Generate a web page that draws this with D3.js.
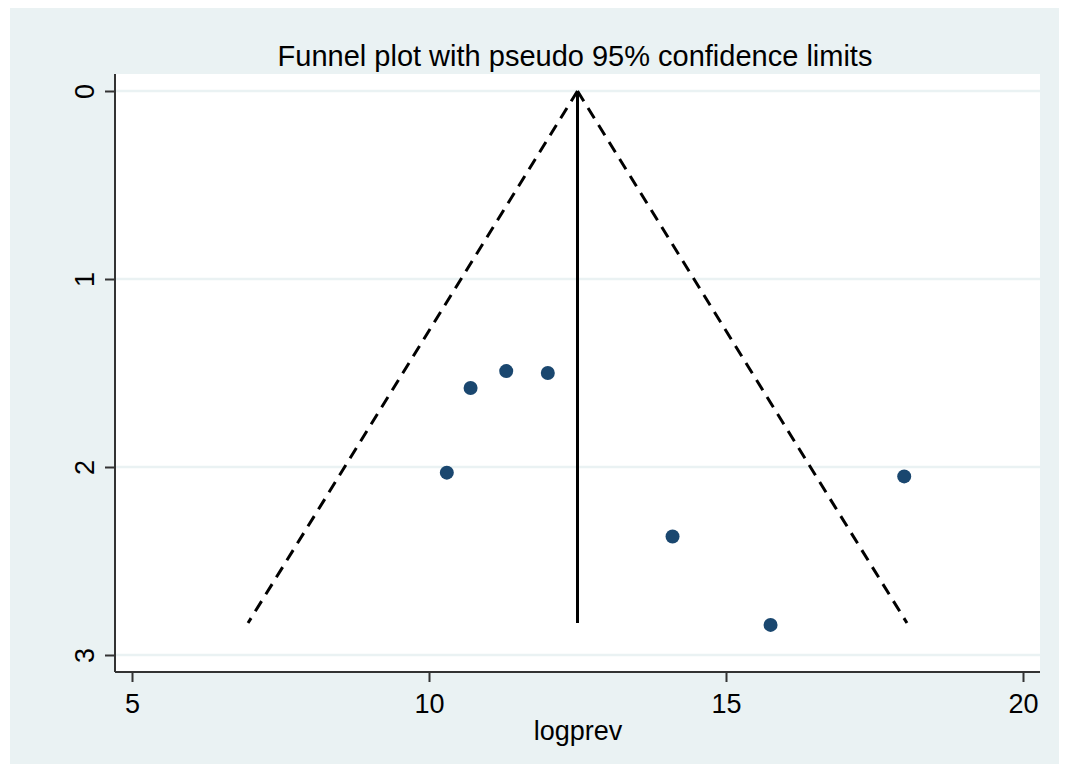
<!DOCTYPE html>
<html>
<head>
<meta charset="utf-8">
<script src="https://cdn.jsdelivr.net/npm/d3@7"></script>
<style>
  body { margin: 0; background: #fff; }
  text { font-family: "Liberation Sans", Arial, sans-serif; fill: #000; }
</style>
</head>
<body>
<div id="chart"></div>
<script>
// Study estimates (logprev) and their standard errors
const logprev = [10.3, 10.7, 11.3, 12.0, 14.1, 15.75, 18.0];
const seValues = [2.03, 1.58, 1.49, 1.50, 2.37, 2.84, 2.05];

// Pooled estimate and funnel limits
const pooled = 12.5;
const seMax = 2.83;
const xTicks = [5, 10, 15, 20];
const yTicks = [0, 1, 2, 3];

// Dimensions
const width = 1069;
const height = 772;
const margin = {top: 74, right: 29, bottom: 100, left: 115};

const svg = d3.select("#chart")
  .append("svg")
    .attr("width", width)
    .attr("height", height);

// Outer graph region
svg.append("rect")
  .attr("x", 10).attr("y", 8)
  .attr("width", 1049).attr("height", 756)
  .attr("fill", "#eaf2f3");

// Plot region
svg.append("rect")
  .attr("x", margin.left).attr("y", margin.top)
  .attr("width", width - margin.right - margin.left)
  .attr("height", height - margin.bottom - margin.top)
  .attr("fill", "#fff");

// Scales
const x = d3.scaleLinear().domain([5, 20]).range([132, 1023]);
const y = d3.scaleLinear().domain([0, 3]).range([91, 655]);

// Gridlines
svg.append("g")
  .selectAll("line")
  .data(yTicks)
  .join("line")
    .attr("x1", margin.left).attr("x2", width - margin.right)
    .attr("y1", d => y(d)).attr("y2", d => y(d))
    .attr("stroke", "#eaf2f3")
    .attr("stroke-width", 2.5);

// Funnel limits
const lower = [[pooled, 0], [pooled - 1.96 * seMax, seMax]];
const upper = [[pooled, 0], [pooled + 1.96 * seMax, seMax]];
const line = d3.line().x(d => x(d[0])).y(d => y(d[1]));

[lower, upper].forEach(pts => {
  svg.append("path")
    .attr("d", line(pts))
    .attr("fill", "none")
    .attr("stroke", "#000")
    .attr("stroke-width", 3)
    .attr("stroke-dasharray", "12,8");
});

// Pooled estimate line
svg.append("path")
  .attr("d", line([[pooled, 0], [pooled, seMax]]))
  .attr("fill", "none")
  .attr("stroke", "#000")
  .attr("stroke-width", 3);

// Study points
svg.append("g")
  .selectAll("circle")
  .data(logprev.map((v, i) => ({x: v, se: seValues[i]})))
  .join("circle")
    .attr("cx", d => x(d.x))
    .attr("cy", d => y(d.se))
    .attr("r", 7)
    .attr("fill", "#1a476f");

// x-axis
const xAxis = d3.axisBottom(x)
  .tickValues(xTicks)
  .tickSize(10)
  .tickPadding(8)
  .tickFormat(d3.format("d"));

const gx = svg.append("g")
  .attr("transform", `translate(0, ${height - margin.bottom})`)
  .call(xAxis);
gx.select(".domain").attr("d", `M${margin.left},0H${width - margin.right}`)
  .attr("stroke", "#333").attr("stroke-width", 2);
gx.selectAll(".tick line").attr("stroke", "#333").attr("stroke-width", 2);
gx.selectAll(".tick text")
  .attr("font-size", 27)
  .attr("font-family", "Liberation Sans, Arial, sans-serif")
  .attr("fill", "#000")
  .attr("dy", null)
  .attr("y", 41);

// y-axis
const yAxis = d3.axisLeft(y)
  .tickValues(yTicks)
  .tickSize(10)
  .tickPadding(8)
  .tickFormat(d3.format("d"));

const gy = svg.append("g")
  .attr("transform", `translate(${margin.left}, 0)`)
  .call(yAxis);
gy.select(".domain").attr("d", `M0,${margin.top}V${height - margin.bottom}`)
  .attr("stroke", "#333").attr("stroke-width", 2);
gy.selectAll(".tick line").attr("stroke", "#333").attr("stroke-width", 2);
gy.selectAll(".tick text")
  .attr("font-size", 27)
  .attr("font-family", "Liberation Sans, Arial, sans-serif")
  .attr("fill", "#000")
  .attr("text-anchor", "middle")
  .attr("dy", null)
  .attr("x", 0)
  .attr("dominant-baseline", "central")
  .attr("transform", "translate(-30,0) rotate(-90)");

// Title
svg.append("text")
  .attr("x", 575).attr("y", 66)
  .attr("text-anchor", "middle")
  .attr("font-size", 29)
  .text("Funnel plot with pseudo 95% confidence limits");

// x label
svg.append("text")
  .attr("x", 578).attr("y", 740)
  .attr("text-anchor", "middle")
  .attr("font-size", 27)
  .text("logprev");
</script>
</body>
</html>
